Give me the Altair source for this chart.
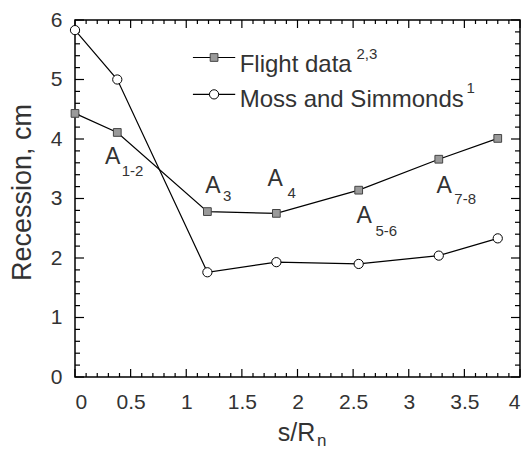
import altair as alt
import pandas as pd

# ---- data ----
s_over_rn = [0.0, 0.38, 1.19, 1.81, 2.55, 3.27, 3.80]
flight = [4.43, 4.11, 2.78, 2.75, 3.14, 3.66, 4.01]
moss = [5.83, 5.00, 1.76, 1.93, 1.90, 2.04, 2.33]

x_major = [0, 0.5, 1, 1.5, 2, 2.5, 3, 3.5, 4]
y_major = [0, 1, 2, 3, 4, 5, 6]
x_minor = [round(i * 0.1, 1) for i in range(1, 40) if i % 5 != 0]
y_minor = [round(i * 0.2, 1) for i in range(1, 30) if i % 5 != 0]

# annotation labels (main letter + subscript), data coordinates
ann_main_x = [0.27, 1.17, 1.73, 2.53, 3.25]
ann_main_y = [3.58, 3.09, 3.21, 2.58, 3.09]
ann_main_t = ["A", "A", "A", "A", "A"]
ann_sub_x = [0.42, 1.33, 1.91, 2.70, 3.41]
ann_sub_y = [3.38, 2.96, 3.01, 2.37, 2.91]
ann_sub_t = ["1-2", "3", "4", "5-6", "7-8"]

# legend
leg_names = ["Flight data", "Moss and Simmonds"]
leg_sup = ["2,3", "1"]
leg_y = [5.37, 4.75]
leg_text_y = [5.13, 4.53]
leg_sup_x = [2.53, 3.52]
leg_sup_y = [5.35, 4.77]

W, H = 445, 357
FONT = "Liberation Sans"
TXT = "#333333"

xs = alt.Scale(domain=[0, 4], nice=False, zero=False)
ys = alt.Scale(domain=[0, 6], nice=False, zero=False)

df = pd.DataFrame({"s": s_over_rn, "flight": flight, "moss": moss})
base = alt.Chart(df)

axis_x = alt.Axis(values=x_major, format="~g", labelFontSize=21, labelFont=FONT,
                  labelColor=TXT, ticks=False, domain=False, grid=False,
                  labelPadding=14, title="s/R", titleFont=FONT, titleFontSize=25,
                  titleFontWeight="normal", titleColor=TXT, titleX=221, titleY=63,
                  titleBaseline="alphabetic", titleAlign="center")
axis_y = alt.Axis(values=y_major, format="d", labelFontSize=21, labelFont=FONT,
                  labelColor=TXT, ticks=False, domain=False, grid=False,
                  labelPadding=13, title="Recession, cm", titleFont=FONT,
                  titleFontSize=27, titleFontWeight="normal", titleColor=TXT,
                  titleX=-53, titleY=172, titleAngle=270, titleAlign="center",
                  titleBaseline="middle")

flight_line = base.mark_line(color="black", strokeWidth=1.2).encode(
    x=alt.X("s:Q", scale=xs, axis=axis_x),
    y=alt.Y("flight:Q", scale=ys, axis=axis_y),
)
moss_line = base.mark_line(color="black", strokeWidth=1.2).encode(
    x=alt.X("s:Q", scale=xs), y=alt.Y("moss:Q", scale=ys)
)
flight_pts = base.mark_point(shape="square", filled=True, size=60, fill="#9a9a9a",
                             stroke="#444", strokeWidth=1, opacity=1).encode(
    x=alt.X("s:Q", scale=xs), y=alt.Y("flight:Q", scale=ys)
)
moss_pts = base.mark_point(shape="circle", size=85, fill="white", stroke="black",
                           strokeWidth=1, opacity=1, filled=True).encode(
    x=alt.X("s:Q", scale=xs), y=alt.Y("moss:Q", scale=ys)
)

# inside ticks
def ticks_x(vals, length, top):
    d = pd.DataFrame({"v": vals})
    if top:
        return alt.Chart(d).mark_rule(color="black", strokeWidth=1.2).encode(
            x=alt.X("v:Q", scale=xs), y=alt.value(0), y2=alt.value(length))
    return alt.Chart(d).mark_rule(color="black", strokeWidth=1.2).encode(
        x=alt.X("v:Q", scale=xs), y=alt.value(H), y2=alt.value(H - length))

def ticks_y(vals, length, right):
    d = pd.DataFrame({"v": vals})
    if right:
        return alt.Chart(d).mark_rule(color="black", strokeWidth=1.2).encode(
            y=alt.Y("v:Q", scale=ys), x=alt.value(W), x2=alt.value(W - length))
    return alt.Chart(d).mark_rule(color="black", strokeWidth=1.2).encode(
        y=alt.Y("v:Q", scale=ys), x=alt.value(0), x2=alt.value(length))

tick_layers = [
    ticks_x(x_major, 8, False), ticks_x(x_minor, 4, False),
    ticks_x(x_major, 8, True), ticks_x(x_minor, 4, True),
    ticks_y(y_major, 9, False), ticks_y(y_minor, 5, False),
    ticks_y(y_major, 9, True), ticks_y(y_minor, 5, True),
]

ann_main = alt.Chart(pd.DataFrame({"x": ann_main_x, "y": ann_main_y, "t": ann_main_t})).mark_text(
    align="left", baseline="alphabetic", font=FONT, fontSize=23, color=TXT
).encode(x=alt.X("x:Q", scale=xs), y=alt.Y("y:Q", scale=ys), text="t:N")
ann_sub = alt.Chart(pd.DataFrame({"x": ann_sub_x, "y": ann_sub_y, "t": ann_sub_t})).mark_text(
    align="left", baseline="alphabetic", font=FONT, fontSize=15, color=TXT
).encode(x=alt.X("x:Q", scale=xs), y=alt.Y("y:Q", scale=ys), text="t:N")

# legend
leg_df = pd.DataFrame({"x1": [1.06, 1.06], "x2": [1.44, 1.44], "y": leg_y,
                       "xm": [1.25, 1.25], "xt": [1.48, 1.48], "yt": leg_text_y,
                       "name": leg_names, "sx": leg_sup_x, "sy": leg_sup_y, "sup": leg_sup})
leg_lines = alt.Chart(leg_df).mark_rule(color="black", strokeWidth=1.2).encode(
    x=alt.X("x1:Q", scale=xs), x2="x2:Q", y=alt.Y("y:Q", scale=ys))
leg_sq = alt.Chart(leg_df.iloc[[0]]).mark_point(shape="square", filled=True, size=60,
                                                fill="#9a9a9a", stroke="#444", strokeWidth=1,
                                                opacity=1).encode(
    x=alt.X("xm:Q", scale=xs), y=alt.Y("y:Q", scale=ys))
leg_ci = alt.Chart(leg_df.iloc[[1]]).mark_point(shape="circle", size=85, fill="white",
                                                stroke="black", strokeWidth=1, opacity=1,
                                                filled=True).encode(
    x=alt.X("xm:Q", scale=xs), y=alt.Y("y:Q", scale=ys))
leg_txt = alt.Chart(leg_df).mark_text(align="left", baseline="alphabetic", font=FONT,
                                      fontSize=24, color=TXT).encode(
    x=alt.X("xt:Q", scale=xs), y=alt.Y("yt:Q", scale=ys), text="name:N")
leg_suptxt = alt.Chart(leg_df).mark_text(align="left", baseline="alphabetic", font=FONT,
                                         fontSize=15, color=TXT).encode(
    x=alt.X("sx:Q", scale=xs), y=alt.Y("sy:Q", scale=ys), text="sup:N")

sub_n = alt.Chart(pd.DataFrame({"t": ["n"]})).mark_text(
    align="left", baseline="alphabetic", font=FONT, fontSize=17, color=TXT
).encode(x=alt.value(242), y=alt.value(426), text="t:N")

chart = alt.layer(
    flight_line, moss_line, *tick_layers, flight_pts, moss_pts,
    ann_main, ann_sub, leg_lines, leg_sq, leg_ci, leg_txt, leg_suptxt, sub_n
).properties(
    width=W, height=H,
    autosize=alt.AutoSizeParams(type="none"),
    padding={"left": 67, "top": 12, "right": 1, "bottom": 75},
    background="white",
).configure_view(stroke="black", strokeWidth=1.5)

chart.save("out.html", embed_options={"renderer": "svg", "actions": False})
